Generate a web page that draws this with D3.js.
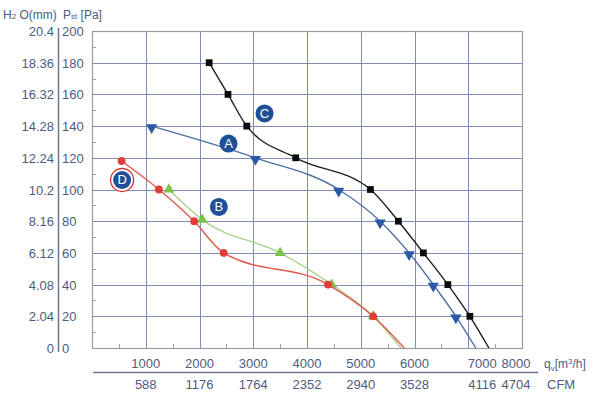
<!DOCTYPE html>
<meta charset="utf-8">
<style>
body { margin: 0; background: #fff; }
text { font-family: "Liberation Sans", Arial, sans-serif; fill: #4d5c80; }
.grid line { stroke: #7f8cb5; stroke-width: 1; shape-rendering: crispEdges; }
.minor line { stroke: #9aa0b0; stroke-width: 1; shape-rendering: crispEdges; }
.curve { fill: none; stroke-width: 1.4; }
</style>
<body>
<script src="https://d3js.org/d3.v7.min.js"></script>
<script>

// ---- data ----
// pressure in Pa, flow in m3/h ; last point of each curve (0 Pa) has no marker
var curveA_q = [1110, 3040, 4590, 5360, 5900, 6350, 6770, 7140];
var curveA_p = [140, 120, 100, 80, 60, 40, 20, 0];

var curveB_q = [1430, 2050, 3500, 4460, 5230, 5750];
var curveB_p = [100, 81, 60, 40, 20, 0];

var curveC_q = [2180, 2530, 2880, 3790, 5180, 5700, 6165, 6620, 7030, 7385];
var curveC_p = [180, 160, 140, 120, 100, 80, 60, 40, 20, 0];

var curveD_q = [550, 1245, 1900, 2450, 4390, 5230, 5810];
var curveD_p = [118, 100, 80, 60, 40, 20, 0];

var paTicks  = [0, 20, 40, 60, 80, 100, 120, 140, 160, 180, 200];
var mmTicks  = ["0", "2.04", "4.08", "6.12", "8.16", "10.2", "12.24", "14.28", "16.32", "18.36", "20.4"];
var qTicks   = [1000, 2000, 3000, 4000, 5000, 6000, 7000, 8000];
var cfmTicks = [588, 1176, 1764, 2352, 2940, 3528, 4116, 4704];

// curve tags (letter, q, p)
var tagNames = ["A", "B", "C", "D"];
var tagQ = [2540, 2360, 3210, 560];
var tagP = [129, 89, 148, 106];

// set the dimensions (plot box)
var W = 599, H = 400;
var pL = 92, pR = 522, pT = 31, pB = 348;

var x = d3.scaleLinear().domain([0, 8000]).range([pL, pR]);
var y = d3.scaleLinear().domain([0, 200]).range([pB, pT]);

var svg = d3.select("body").append("svg")
    .attr("width", W).attr("height", H);

// grid lines
var grid = svg.append("g").attr("class", "grid");
grid.selectAll(".gx").data(qTicks.slice(0, -1)).enter().append("line")
    .attr("x1", function(d) { return Math.round(x(d)) + 0.5; })
    .attr("x2", function(d) { return Math.round(x(d)) + 0.5; })
    .attr("y1", pT).attr("y2", pB);
grid.selectAll(".gy").data(paTicks.slice(1, -1)).enter().append("line")
    .attr("x1", pL).attr("x2", pR)
    .attr("y1", function(d) { return Math.round(y(d)) + 0.5; })
    .attr("y2", function(d) { return Math.round(y(d)) + 0.5; });

// minor ticks on left and bottom edge
var minor = svg.append("g").attr("class", "minor");
minor.selectAll(".my").data(d3.range(10, 200, 20)).enter().append("line")
    .attr("x1", pL).attr("x2", pL + 4)
    .attr("y1", function(d) { return Math.round(y(d)) + 0.5; })
    .attr("y2", function(d) { return Math.round(y(d)) + 0.5; });
minor.selectAll(".mx").data(d3.range(500, 8000, 1000)).enter().append("line")
    .attr("x1", function(d) { return Math.round(x(d)) + 0.5; })
    .attr("x2", function(d) { return Math.round(x(d)) + 0.5; })
    .attr("y1", pB).attr("y2", pB - 4);

// frame
svg.append("rect")
    .attr("x", pL + 0.5).attr("y", pT + 0.5)
    .attr("width", pR - pL).attr("height", pB - pT)
    .attr("fill", "none").attr("stroke", "#9a9ca4").attr("stroke-width", 1.2);

// left double axis
svg.append("line")
    .attr("x1", 58.5).attr("x2", 58.5).attr("y1", 28).attr("y2", 352)
    .attr("stroke", "#6d7690").attr("stroke-width", 1.5);

svg.selectAll(".pa").data(paTicks).enter().append("text")
    .attr("x", 62).attr("y", function(d) { return y(d) + 5; })
    .style("font-size", "13px")
    .text(function(d) { return d; });

svg.selectAll(".mm").data(paTicks).enter().append("text")
    .attr("x", 54).attr("y", function(d) { return y(d) + 5; })
    .attr("text-anchor", "end")
    .style("font-size", "13px")
    .text(function(d, i) { return mmTicks[i]; });

// header
var h1 = svg.append("text").attr("x", 3).attr("y", 19).style("font-size", "12px");
h1.append("tspan").text("H");
h1.append("tspan").style("font-size", "8px").text("2");
h1.append("tspan").text(" O(mm)");
var h2 = svg.append("text").attr("x", 63).attr("y", 19).style("font-size", "12px");
h2.append("tspan").text("P");
h2.append("tspan").style("font-size", "8px").text("st");
h2.append("tspan").text(" [Pa]");

// bottom double axis
svg.append("line")
    .attr("x1", 93).attr("x2", 538).attr("y1", 372.5).attr("y2", 372.5)
    .attr("stroke", "#6d7690").attr("stroke-width", 1.5);

function nudge(d) { return d === 7000 ? 14 : (d === 8000 ? -6 : 0); }

svg.selectAll(".qx").data(qTicks).enter().append("text")
    .attr("x", function(d) { return x(d) + nudge(d); })
    .attr("y", 368)
    .attr("text-anchor", "middle")
    .style("font-size", "13px")
    .text(function(d) { return d; });

svg.selectAll(".cfm").data(cfmTicks).enter().append("text")
    .attr("x", function(d, i) { return x(qTicks[i]) + nudge(qTicks[i]); })
    .attr("y", 389)
    .attr("text-anchor", "middle")
    .style("font-size", "13px")
    .text(function(d) { return d; });

var qv = svg.append("text").attr("x", 544).attr("y", 368).style("font-size", "12px");
qv.append("tspan").text("q");
qv.append("tspan").style("font-size", "8px").attr("dy", 3).text("v");
qv.append("tspan").attr("dy", -3).text("[m");
qv.append("tspan").style("font-size", "8px").attr("dy", -4).text("3");
qv.append("tspan").attr("dy", 4).text("/h]");

svg.append("text").attr("x", 547).attr("y", 389).style("font-size", "13px").text("CFM");

// curves
var line = d3.line()
    .curve(d3.curveMonotoneX)
    .x(function(d) { return x(d[0]); })
    .y(function(d) { return y(d[1]); });

var series = [
  { q: curveB_q, p: curveB_p, line: "#a6d38a", mark: "#7dc24a", shape: d3.symbolTriangle, size: 50, rot: 0 },
  { q: curveD_q, p: curveD_p, line: "#e2584c", mark: "#e33c36", shape: d3.symbolCircle, size: 48, rot: 0 },
  { q: curveA_q, p: curveA_p, line: "#4f6fa5", mark: "#2a5aa6", shape: d3.symbolTriangle, size: 55, rot: 180 },
  { q: curveC_q, p: curveC_p, line: "#1f1f1f", mark: "#0a0a0a", shape: d3.symbolSquare, size: 46, rot: 0 }
];

series.forEach(function(s) {
  var pts = s.q.map(function(q, i) { return [q, s.p[i]]; });
  svg.append("path")
     .datum(pts)
     .attr("class", "curve")
     .attr("stroke", s.line)
     .attr("d", line);
  svg.selectAll(null)
     .data(pts.filter(function(d) { return d[1] > 0; }))
     .enter().append("path")
     .attr("d", d3.symbol().type(s.shape).size(s.size))
     .attr("fill", s.mark)
     .attr("transform", function(d) {
        var dy = s.rot ? 1.5 : 0;
        return "translate(" + x(d[0]) + "," + (y(d[1]) + dy) + ") rotate(" + s.rot + ")";
     });
});

// curve tags
tagNames.forEach(function(t, i) {
  var g = svg.append("g")
      .attr("transform", "translate(" + x(tagQ[i]) + "," + y(tagP[i]) + ")");
  if (t === "D") {
    g.append("circle").attr("r", 11.5).attr("fill", "#fff")
     .attr("stroke", "#d8342e").attr("stroke-width", 1.3);
  }
  g.append("circle").attr("r", 9).attr("fill", "#1f4f97");
  g.append("text")
   .attr("text-anchor", "middle").attr("y", 4.5)
   .style("font-size", "13px").style("fill", "#fff")
   .text(t);
});

</script>
</body>
